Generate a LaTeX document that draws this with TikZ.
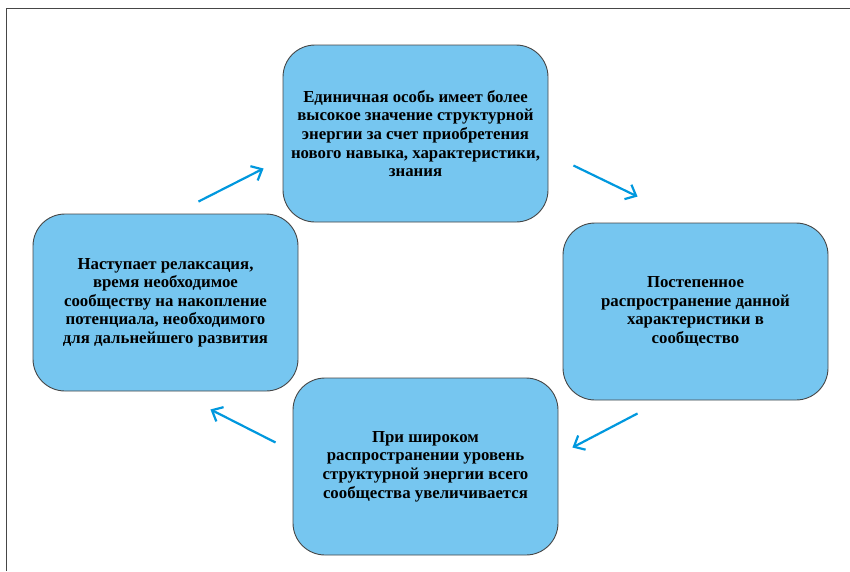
\documentclass[tikz,border=0pt]{standalone}
\usepackage{fontspec}
\setmainfont{Liberation Serif}
\usepackage{tikz}
\usetikzlibrary{positioning, arrows.meta, calc}
\usepackage{xcolor}
\definecolor{boxblue}{RGB}{118,198,240}
\definecolor{arrowblue}{RGB}{0,152,222}
\definecolor{framegray}{RGB}{70,70,70}

\begin{document}
\begin{tikzpicture}[
    x=1pt, y=-1pt,
    stage/.style={draw=framegray, line width=0.9pt, fill=boxblue, rounded corners=32pt,
        minimum width=265pt, minimum height=177pt, align=center, inner sep=2pt,
        font=\fontsize{16.8}{18.6}\selectfont\bfseries, text=black},
    flow/.style={draw=arrowblue, line width=2.2pt, -{Straight Barb[length=9pt,width=16pt,line width=2.2pt]}},
]
\useasboundingbox (0,0) rectangle (850,571);
% page frame (only top and left edges show)
\draw[framegray, line width=1pt] (6,571) -- (6,8) -- (850,8);

% the four stages of the cycle
\node[stage] (gain) at (415.5,133.5) {Единичная особь имеет более\\высокое значение структурной\\энергии за счет приобретения\\нового навыка, характеристики,\\знания};
\node[stage] (spread) at (695.5,311.5) {Постепенное\\распространение данной\\характеристики в\\сообщество};
\node[stage] (rise) at (425.5,466.5) {При широком\\распространении уровень\\структурной энергии всего\\сообщества увеличивается};
\node[stage] (relax) at (165.5,302.5) {Наступает релаксация,\\время необходимое\\сообществу на накопление\\потенциала, необходимого\\для дальнейшего развития};

% arrow ends
\coordinate (a1s) at ($(relax.north east)+(-100,-12)$);
\coordinate (a1e) at ($(gain.west)+(-19,35)$);
\coordinate (a2s) at ($(gain.east)+(25,32)$);
\coordinate (a2e) at ($(spread.north west)+(75,-26)$);
\coordinate (a3s) at ($(spread.south west)+(75,13)$);
\coordinate (a3e) at ($(rise.east)+(14,-19)$);
\coordinate (a4s) at ($(rise.west)+(-17,-24)$);
\coordinate (a4e) at ($(relax.south east)+(-88,18)$);

\draw[flow] (a1s) -- (a1e);
\draw[flow] (a2s) -- (a2e);
\draw[flow] (a3s) -- (a3e);
\draw[flow] (a4s) -- (a4e);
\end{tikzpicture}
\end{document}
